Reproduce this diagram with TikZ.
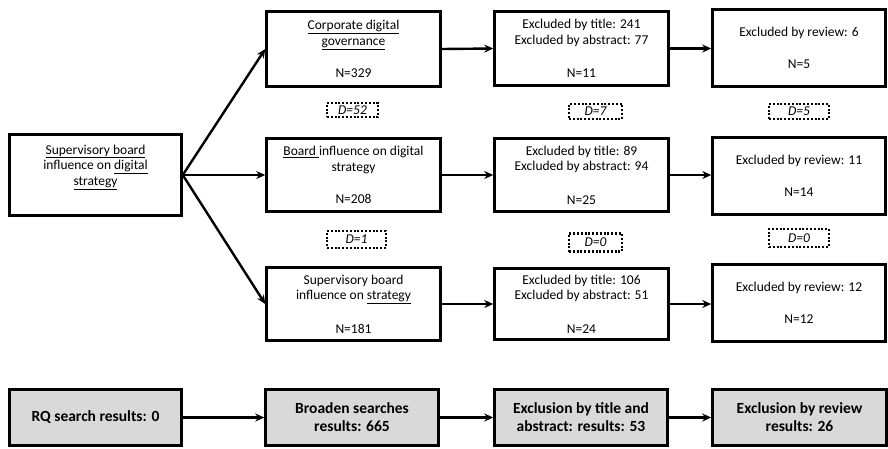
\documentclass[tikz,border=0pt]{standalone}
\usepackage{fontspec}
\setmainfont{Carlito}
\usetikzlibrary{arrows.meta}
\definecolor{boxgray}{HTML}{D9D9D9}
\tikzset{
  box/.style={draw, line width=2.5pt, minimum width=174pt, minimum height=76pt, inner sep=0pt, align=center,
    font=\fontsize{13.5}{15.5}\selectfont},
  txt/.style={inner sep=0pt, align=center, font=\fontsize{13.5}{15.5}\selectfont},
  graybox/.style={draw, line width=2.5pt, fill=boxgray, minimum width=173pt, minimum height=56pt, inner sep=0pt, align=center,
    font=\fontsize{15.5}{18}\selectfont\bfseries},
  dbox/.style={draw, line width=2.3pt, dash pattern=on 2pt off 1.8pt, inner sep=0pt,
    font=\fontsize{13.5}{15.5}\selectfont\itshape},
  arr/.style={line width=2.4pt, -{Stealth[length=9pt, width=8pt]}}
}
\begin{document}
\begin{tikzpicture}[x=1pt,y=-1pt]
\useasboundingbox (0,0) rectangle (888,448);
% left box
\node[box, minimum width=172pt, minimum height=81pt] (L) at (95.5,175) {};
\node[txt] (Lt) at (95.5,167) {\underline{Supervisory board}\\influence on \underline{digital}\\\underline{strategy}};
% column 2
\node[box, minimum height=75pt] (A1) at (353.5,49) {\underline{Corporate digital}\\\underline{governance}\\[17pt]N=329};
\node[box, minimum height=73pt] (A2) at (353.5,175) {\underline{Board }influence on digital\\strategy\\[17pt]N=208};
\node[box, minimum height=73pt] (A3) at (353.5,304) {Supervisory board\\influence on \underline{strategy}\\[18pt]N=181};
% column 3
\node[box, minimum height=74pt] (B1) at (581.5,48.5) {Excluded by title: 241\\Excluded by abstract: 77\\[18pt]N=11};
\node[box, minimum height=73pt] (B2) at (581.5,175) {Excluded by title: 89\\Excluded by abstract: 94\\[18pt]N=25};
\node[box, minimum height=71pt] (B3) at (581.5,304) {Excluded by title: 106\\Excluded by abstract: 51\\[18pt]N=24};
% column 4
\node[box, minimum width=173pt, minimum height=77pt] (C1) at (799,48) {Excluded by review: 6\\[17pt]N=5};
\node[box, minimum width=173pt, minimum height=77pt] (C2) at (799,176) {Excluded by review: 11\\[17pt]N=14};
\node[box, minimum width=173pt, minimum height=77pt] (C3) at (799,303) {Excluded by review: 12\\[17pt]N=12};
% dotted D boxes
\node[dbox, minimum width=51pt, minimum height=14pt] (D1) at (352.5,110) {D=52};
\node[dbox, minimum width=53pt, minimum height=15pt] (D2) at (595.5,111.5) {D=7};
\node[dbox, minimum width=60pt, minimum height=15pt] (D3) at (799,111.5) {D=5};
\node[dbox, minimum width=59pt, minimum height=17pt] (D4) at (356.5,239.5) {D=1};
\node[dbox, minimum width=53pt, minimum height=18pt] (D5) at (595.5,242.5) {D=0};
\node[dbox, minimum width=60pt, minimum height=18pt] (D6) at (799,238) {D=0};
% bottom row
\node[graybox, minimum width=172pt] (R1) at (95.5,417.5) {RQ search results: 0};
\node[graybox] (R2) at (352,417.5) {Broaden searches\\results: 665};
\node[graybox] (R3) at (581,417.5) {Exclusion by title and\\abstract: results: 53};
\node[graybox, minimum width=174pt] (R4) at (799.5,417.5) {Exclusion by review\\results: 26};
% connectors
\draw[arr] (L.east) -- (A1.west);
\draw[arr] (L.east) -- (A2.west);
\draw[arr] (L.east) -- (A3.west);
\draw[arr] (A1.east) -- (B1.west);
\draw[arr] (A2.east) -- (B2.west);
\draw[arr] (A3.east) -- (B3.west);
\draw[arr] (B1.east) -- (B1.east -| C1.west);
\draw[arr] (B2.east) -- (B2.east -| C2.west);
\draw[arr] (B3.east) -- (B3.east -| C3.west);
\draw[arr] (R1) -- (R2);
\draw[arr] (R2) -- (R3);
\draw[arr] (R3) -- (R4);
\end{tikzpicture}
\end{document}
